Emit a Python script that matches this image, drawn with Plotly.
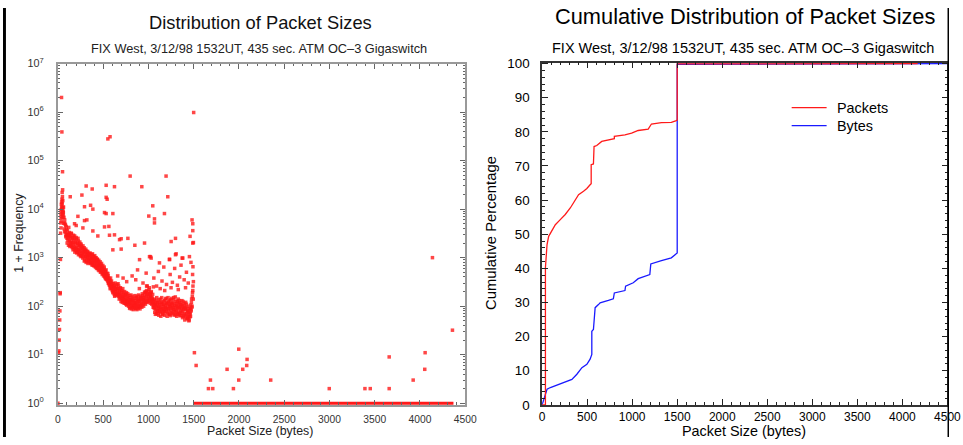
import plotly.graph_objects as go

W, H = 963, 445
FONT = "Liberation Sans, Arial, Helvetica, sans-serif"

# ---------------- Left chart: packet size vs (1 + frequency) ----------------
small_sizes = [0, 6, 10, 14, 17, 20, 22, 24, 26, 28, 30, 32, 33, 34, 35, 36, 37, 38, 39, 40,
               41, 42, 43, 44, 45, 46, 47, 48, 49, 50, 51, 52, 53, 54, 55, 56, 57, 58]
small_freq = [1, 11, 12, 20, 33, 52, 80, 180, 190, 920, 3200, 5200, 7900, 4100, 6500, 9800, 5600, 12500, 8800, 2000000,
              14000, 11000, 7000, 390000, 16000, 10500, 22000, 13000, 8000, 18000, 59000, 25000, 9500, 15000, 11000, 6800, 9000, 7600]

band_sizes = list(range(60, 1505, 5))
band_freq = [
    8400, 5100, 3900, 6000, 3300, 4600, 2900, 3800, 2500, 3600, 2300, 3100, 4200, 2200, 2800, 1900, 2700, 1800, 3100, 2100,
    1600, 2600, 1900, 2300, 1500, 2800, 1700, 2000, 1400, 2400, 1600, 1900, 1300, 2200, 1500, 1750, 1200, 1900, 1400, 1050,
    1700, 1250, 1500, 980, 1350, 1150, 1600, 900, 1250, 1050, 1400, 850, 1150, 1000, 1300, 880, 1100, 820, 960, 1250,
    760, 1000, 870, 1150, 700, 950, 820, 1050, 680, 900, 760, 980, 640, 850, 720, 930, 600, 820, 680, 540,
    750, 620, 500, 700, 560, 640, 450, 600, 520, 420, 580, 470, 390, 530, 440, 360, 480, 380, 330, 420,
    300, 360, 270, 340, 250, 310, 230, 290, 210, 270, 200, 250, 180, 240, 170, 220, 200, 260, 180, 230,
    170, 290, 160, 215, 185, 150, 240, 170, 145, 210, 160, 130, 195, 150, 175, 125, 150, 115, 175, 130,
    105, 160, 120, 140, 100, 150, 115, 95, 135, 110, 150, 100, 125, 92, 140, 105, 120, 95, 145, 110,
    90, 130, 105, 160, 100, 125, 95, 140, 110, 130, 98, 150, 115, 135, 105, 165, 125, 150, 115, 170,
    135, 190, 120, 160, 210, 140, 180, 130, 200, 155, 240, 135, 175, 150, 190, 130, 150, 120, 135, 105,
    115, 90, 75, 110, 85, 130, 70, 100, 80, 120, 90, 65, 105, 85, 140, 75, 95, 120, 80, 110,
    70, 100, 88, 130, 78, 105, 92, 145, 85, 115, 72, 98, 125, 82, 108, 68, 100, 135, 80, 112,
    74, 96, 120, 86, 150, 78, 104, 66, 94, 125, 82, 110, 70, 98, 140, 76, 92, 118, 72, 100,
    64, 88, 130, 78, 105, 62, 90, 115, 70, 95, 60, 84, 110, 66, 55, 80, 58, 75, 52, 68,
    90, 62, 85, 120, 95, 160, 210, 140, 980000,
]

band2_sizes = list(range(62, 1500, 5))
band2_freq = [
    11000, 6800, 5200, 3500, 4900, 2700, 4300, 3000, 2000, 3000, 2600, 1800, 2900, 3300, 1700, 2500, 2100, 3200, 1700, 2500,
    2000, 1450, 2900, 1650, 2500, 1300, 2100, 1550, 2600, 1250, 2000, 1450, 2500, 1150, 1800, 1350, 2100, 1100, 1600, 1900,
    1100, 1600, 1250, 1750, 1050, 1450, 850, 1350, 1050, 1500, 800, 1200, 950, 1350, 760, 1100, 900, 1200, 1150, 800,
    1100, 800, 950, 720, 1200, 780, 1050, 690, 880, 1100, 650, 820, 1000, 600, 780, 920, 680, 560, 880, 710,
    580, 820, 680, 520, 760, 610, 480, 690, 560, 470, 640, 420, 520, 370, 560, 460, 350, 420, 470, 300,
    380, 280, 320, 230, 380, 270, 330, 250, 240, 190, 290, 220, 260, 160, 300, 200, 230, 170, 280, 190,
    230, 175, 260, 140, 200, 165, 230, 125, 190, 150, 120, 230, 140, 170, 115, 200, 135, 165, 110, 190,
    140, 120, 180, 110, 125, 165, 90, 130, 115, 170, 88, 135, 105, 160, 85, 130, 115, 100, 165, 90,
    120, 150, 85, 115, 140, 90, 170, 100, 125, 88, 160, 105, 145, 95, 180, 110, 140, 100, 130, 195,
    150, 110, 200, 125, 175, 260, 120, 170, 145, 220, 125, 180, 115, 160, 200, 110, 140, 175, 95, 125,
    95, 140, 105, 68, 120, 95, 150, 80, 115, 70, 100, 135, 78, 120, 92, 62, 110, 150, 88, 68,
    125, 82, 110, 65, 95, 140, 76, 118, 90, 62, 112, 150, 88, 70, 130, 95, 64, 115, 90, 145,
    105, 70, 92, 135, 66, 112, 84, 155, 74, 100, 62, 128, 88, 115, 68, 95, 130, 64, 108, 82,
    110, 72, 96, 58, 125, 84, 66, 100, 52, 88, 120, 70, 92, 56, 78, 100, 62, 50, 88, 60,
    72, 105, 80, 140, 100, 190, 260, 320,
]

outlier_sizes = [552, 576, 798, 1195, 312, 379, 533, 625, 927, 1214, 136, 265, 533, 544, 294, 361, 386, 1048,
                 221, 294, 320, 515, 533, 607, 1004, 1067, 1067, 1177, 1482, 1490, 1490, 1460, 1490, 1497,
                 1299, 1251, 184, 202, 276, 386, 441, 515, 563, 570, 625, 681, 699, 773, 850, 957, 607, 699,
                 1023, 1306, 1372, 1233, 902, 1012, 1030, 1122, 1233, 1299, 1380, 1453,
                 820, 860, 880, 940, 975, 1060, 1090, 1110, 1150, 1170, 1200, 1240, 1265, 1290, 1320, 1345,
                 1360, 1395, 1420, 1440, 1470, 1488, 1492, 1250, 1130, 980, 900, 760, 720, 660, 1410, 1330,
                 1180, 1055,
                 1508, 1527, 1663, 1711, 1685, 1869, 1939, 1998, 1998, 2042, 2086, 2090, 2351, 2998, 3392,
                 3451, 3660, 3660, 3925, 4057, 4053, 4138, 4359]
outlier_freq = [280000, 310000, 48000, 48000, 30000, 26000, 31000, 29000, 29000, 18000, 18000, 19500, 17500, 16000,
                11200, 12000, 10000, 11700, 7100, 5800, 6000, 8500, 8100, 8100, 7200, 6300, 5200, 8100, 6000,
                5000, 3600, 2750, 2000, 2050, 2500, 2150, 5000, 4600, 4100, 3550, 2800, 4300, 4400, 2900, 2950,
                2350, 2450, 2500, 1800, 2000, 1450, 1500, 1050, 1200, 980, 930, 910, 1050, 980, 780, 910, 1150,
                980, 1050,
                420, 350, 560, 300, 480, 380, 260, 520, 330, 640, 280, 450, 310, 600, 270, 400,
                700, 350, 500, 300, 800, 450, 650, 240, 230, 260, 230, 320, 380, 420, 240, 220,
                210, 250,
                11, 6, 2, 2, 3, 5, 2, 13, 3, 5, 6, 8, 3, 2, 2,
                2, 9, 2, 3, 11, 5, 1000, 32]

# packet sizes above 1500 bytes that were never seen (1 + 0)
zero_sizes = [1501, 4370]
zero_freq = [1, 1]

# ---------------- Right chart: cumulative distributions ----------------
pkt_size = [0, 37, 37, 44, 55, 73, 110, 147, 202, 257, 313, 368, 405, 460, 497, 533, 545, 545, 570, 577,
            607, 662, 736, 802, 802, 920, 994, 1067, 1178, 1196, 1214, 1325, 1435, 1490, 1500, 1500, 4170]
pkt_pct = [0, 0, 40.2, 45, 47, 49.4, 50.9, 52.8, 54.3, 55.8, 57.7, 60.1, 61.6, 62.6, 63.4, 64.5, 64.8, 70.4, 70.6, 75.7,
           76.0, 77.2, 77.7, 78.0, 78.7, 79.1, 79.6, 80.4, 80.8, 81.6, 82.3, 82.7, 82.8, 83.3, 83.5, 99.9, 100]

byte_size = [0, 37, 55, 92, 221, 331, 386, 442, 497, 533, 552, 552, 570, 589, 626, 644, 736, 791, 802, 920,
             927, 1012, 1067, 1140, 1196, 1207, 1251, 1325, 1435, 1490, 1500, 1500, 4500]
byte_pct = [0, 3.6, 4.6, 5.1, 6.5, 7.5, 9.0, 10.9, 11.9, 13.4, 14.8, 21.6, 22.1, 28.5, 29.4, 29.9, 30.6, 31.1, 32.8, 33.5,
            34.8, 35.8, 37.0, 37.7, 38.2, 41.3, 41.6, 42.3, 43.1, 44.2, 44.5, 99.8, 100]

series_names = ["Packets", "Bytes"]

x_ticks = [0, 500, 1000, 1500, 2000, 2500, 3000, 3500, 4000, 4500]
log_ticks = [1, 10, 100, 1000, 10000, 100000, 1000000, 10000000]
log_ticktext = ["10<sup>%d</sup>" % i for i in range(8)]
pct_ticks = [0, 10, 20, 30, 40, 50, 60, 70, 80, 90, 100]

RED = "#ff1a1a"
BLUE = "#1a1aff"

# The rendered page comes out slightly shrunk (about 0.984 x 0.963, shifted ~7.5 px down),
# so layout positions are given in target-picture pixels and converted here.
SX, SY, OY = 0.984, 0.963, 7.5
FS = 1 / 0.972  # font compensation


def fx(p):
    return min(p / SX, W) / W


def fy(p):
    return 1 - min(max((p - OY) / SY, 0), H) / H


def fs(s):
    return round(s * FS, 2)


fig = go.Figure()

scatter_style = dict(mode="markers", marker=dict(color="rgba(255,25,25,0.8)", size=3.5, symbol="square"),
                     showlegend=False, cliponaxis=False, xaxis="x", yaxis="y", hoverinfo="skip")
fig.add_trace(go.Scatter(x=zero_sizes, y=zero_freq, mode="lines", line=dict(color=RED, width=3),
                         showlegend=False, xaxis="x", yaxis="y", hoverinfo="skip"))
fig.add_trace(go.Scatter(x=band_sizes, y=band_freq, **scatter_style))
fig.add_trace(go.Scatter(x=band2_sizes, y=band2_freq, **scatter_style))
fig.add_trace(go.Scatter(x=small_sizes, y=small_freq, **scatter_style))
fig.add_trace(go.Scatter(x=outlier_sizes, y=outlier_freq, **scatter_style))

fig.add_trace(go.Scatter(x=byte_size, y=byte_pct, mode="lines", name=series_names[1],
                         line=dict(color=BLUE, width=1.3), xaxis="x2", yaxis="y2", showlegend=False))
fig.add_trace(go.Scatter(x=pkt_size, y=pkt_pct, mode="lines", name=series_names[0],
                         line=dict(color=RED, width=1.3), xaxis="x2", yaxis="y2", showlegend=False))

minor_log = [m * 10 ** e for e in range(7) for m in range(2, 10)]

fig.update_layout(
    width=W, height=H, autosize=False,
    margin=dict(l=0, r=0, t=0, b=0, pad=0),
    paper_bgcolor="white", plot_bgcolor="white",
    font=dict(family=FONT, color="#000"),
    showlegend=False,
    xaxis=dict(domain=[fx(55), fx(463)], range=[0, 4500], tickmode="array", tickvals=x_ticks,
               ticks="inside", ticklen=5, tickcolor="#666", showline=True, linecolor="#999", linewidth=2,
               mirror="ticks", showgrid=False, zeroline=False,
               minor=dict(ticks="inside", ticklen=2.5, tickcolor="#666", dtick=100, tick0=0),
               ticklabelstandoff=4,
               tickfont=dict(size=fs(10), color="#333", family=FONT)),
    yaxis=dict(domain=[fy(404), fy(63)], type="log", range=[-0.035, 7], tickmode="array", tickvals=log_ticks,
               ticktext=log_ticktext, ticks="inside", ticklen=5, tickcolor="#666", showline=True,
               linecolor="#999", linewidth=2, mirror="ticks", showgrid=False, zeroline=False,
               minor=dict(ticks="inside", ticklen=2.5, tickcolor="#666", tickmode="array", tickvals=minor_log),
               ticklabelstandoff=10,
               tickfont=dict(size=fs(10.5), color="#333", family=FONT)),
    xaxis2=dict(domain=[fx(540), fx(946)], range=[0, 4500], tickmode="array", tickvals=x_ticks,
                ticks="inside", ticklen=6, tickcolor="#222", showline=True, linecolor="#333", linewidth=1.5,
                mirror="ticks", showgrid=False, zeroline=False, anchor="y2",
                minor=dict(ticks="inside", ticklen=3, tickcolor="#222", dtick=100, tick0=0),
                ticklabelstandoff=0, ticklabeloverflow="allow",
                tickfont=dict(size=12, color="#000", family=FONT)),
    yaxis2=dict(domain=[fy(404), fy(62)], range=[0, 100.3], tickmode="array", tickvals=pct_ticks,
                ticks="inside", ticklen=6, tickcolor="#222", showline=True, linecolor="#333", linewidth=1.5,
                mirror="ticks", showgrid=False, zeroline=False, anchor="x2",
                minor=dict(ticks="inside", ticklen=3, tickcolor="#222", dtick=2, tick0=0),
                ticklabelstandoff=8,
                tickfont=dict(size=fs(13), color="#000", family=FONT)),
)


def ann(text, px, py, size, angle=0, color="#000", xanchor="center"):
    fig.add_annotation(text=text, x=fx(px), y=fy(py), xref="paper", yref="paper", showarrow=False,
                       xanchor=xanchor, yanchor="middle", textangle=angle,
                       font=dict(size=fs(size), family=FONT, color=color))


ann("Distribution of Packet Sizes", 258, 22, 17.8, color="#111")
ann("FIX West, 3/12/98 1532UT, 435 sec. ATM OC–3 Gigaswitch", 256, 48, 12.4, color="#222")
ann("1 + Frequency", 16, 232, 12, angle=-90, color="#222")
ann("Packet Size (bytes)", 257, 430, 12, color="#222")

ann("Cumulative Distribution of Packet Sizes", 743, 16, 21.2)
ann("FIX West, 3/12/98 1532UT, 435 sec. ATM OC–3 Gigaswitch", 741, 47, 14.1)
ann("Cumulative Percentage", 489, 232, 14.4, angle=-90)
ann("Packet Size (bytes)", 742, 429.8, 14)

# legend (line sample + label), placed at the picture's pixel positions
legend_rows = [(series_names[0], RED, 107), (series_names[1], BLUE, 125)]
for name, col, py in legend_rows:
    fig.add_shape(type="line", xref="paper", yref="paper", x0=fx(790), x1=fx(825), y0=fy(py), y1=fy(py),
                  line=dict(color=col, width=1.3))
    ann(name, 833, py, 14, xanchor="left")

# black frame edges of the screenshot
fig.add_shape(type="rect", xref="paper", yref="paper", x0=0, x1=3 / W, y0=0, y1=1,
              fillcolor="black", line=dict(width=0))
fig.add_shape(type="rect", xref="paper", yref="paper", x0=961.5 / W, x1=1, y0=0, y1=1,
              fillcolor="black", line=dict(width=0))

page_css = (
    "var s=document.createElement('style');"
    "s.textContent='html,body{margin:0!important;padding:0!important;overflow:hidden!important;"
    "width:963px;height:445px;} .plotly-graph-div{position:fixed!important;left:0;top:0;}';"
    "document.head.appendChild(s);"
)

fig.write_html("out.html", config={"displayModeBar": False, "responsive": False}, post_script=page_css)
